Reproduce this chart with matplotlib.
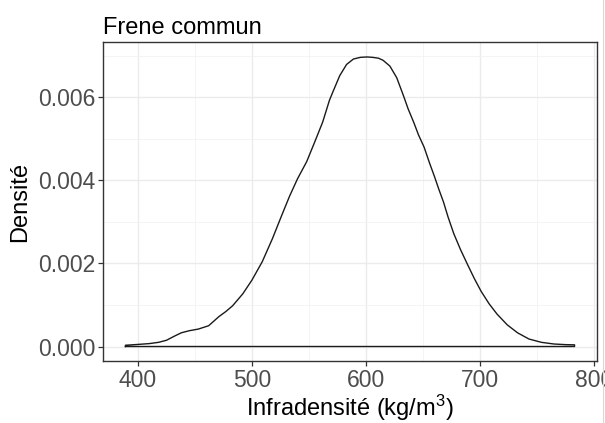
import numpy as np
import matplotlib.pyplot as plt
from matplotlib.lines import Line2D

plt.rcParams['font.family'] = ['Liberation Sans', 'DejaVu Sans']
plt.rcParams['mathtext.default'] = 'regular'

# densité (kg/m3 -> densité, en 1e-3)
infradensite = [389, 400, 410, 418, 425, 432, 438, 445, 453, 462, 471, 477,
                483, 492, 500, 509, 518, 526, 533, 540, 548, 555, 562, 568,
                571, 577, 583, 589, 595, 601, 606, 611, 615, 621, 627, 633,
                637, 642, 646, 651, 656, 660, 664, 668, 672, 677, 683, 689,
                695, 701, 708, 715, 724, 733, 743, 754, 765, 775, 783]
densite = [0.03, 0.05, 0.07, 0.10, 0.15, 0.25, 0.33, 0.38, 0.42, 0.50, 0.72,
           0.84, 0.98, 1.27, 1.60, 2.04, 2.60, 3.15, 3.62, 4.04, 4.45, 4.92,
           5.40, 5.93, 6.13, 6.52, 6.79, 6.92, 6.96, 6.97, 6.96, 6.94, 6.89,
           6.75, 6.47, 6.03, 5.72, 5.39, 5.10, 4.80, 4.40, 4.10, 3.78, 3.48,
           3.12, 2.72, 2.33, 1.98, 1.64, 1.33, 1.03, 0.78, 0.52, 0.33, 0.18,
           0.10, 0.06, 0.045, 0.04]
densite = [d * 1e-3 for d in densite]

x_ticks = [400, 500, 600, 700, 800]
y_ticks = [0.000, 0.002, 0.004, 0.006]

fig = plt.figure(figsize=(6.05, 4.23), dpi=100)
ax = fig.add_axes([103 / 605, 1 - 361 / 423, 494 / 605, 319 / 423])

# contour fermé comme geom_density
xs = [infradensite[0]] + infradensite + [infradensite[-1], infradensite[0]]
ys = [0] + densite + [0, 0]
ax.plot(xs, ys, color='#1a1a1a', lw=1.0, solid_joinstyle='round')

ax.set_xlim(369.3, 802.7)
ax.set_ylim(-0.000349, 0.00733)
ax.set_xticks(x_ticks)
ax.set_yticks(y_ticks)
ax.set_xticklabels([str(v) for v in x_ticks])
ax.set_yticklabels(['%.3f' % v for v in y_ticks])
ax.set_xticks([450, 550, 650, 750], minor=True)
ax.set_yticks([0.001, 0.003, 0.005, 0.007], minor=True)

ax.grid(which='major', color='#EBEBEB', lw=1.0)
ax.grid(which='minor', color='#F2F2F2', lw=0.6)
ax.set_axisbelow(True)
for s in ax.spines.values():
    s.set_color('#333333')
    s.set_linewidth(1.0)

ax.tick_params(which='major', length=3.5, width=0.9, color='#333333',
               labelsize=16.5, labelcolor='#4D4D4D', pad=2)
ax.tick_params(which='minor', length=0)

ax.set_xlabel('Infradensité (kg/m$^3$)', fontsize=17, color='black', labelpad=1)
ax.set_ylabel('Densité', fontsize=17, color='black', labelpad=5)
ax.set_title('Frene commun', loc='left', fontsize=17, pad=6)

# bord droit gris clair de l'image
fig.add_artist(Line2D([602.5 / 605, 602.5 / 605], [0, 1], color='#D9D9D9', lw=0.8))

fig.savefig('out.png', dpi=100)
